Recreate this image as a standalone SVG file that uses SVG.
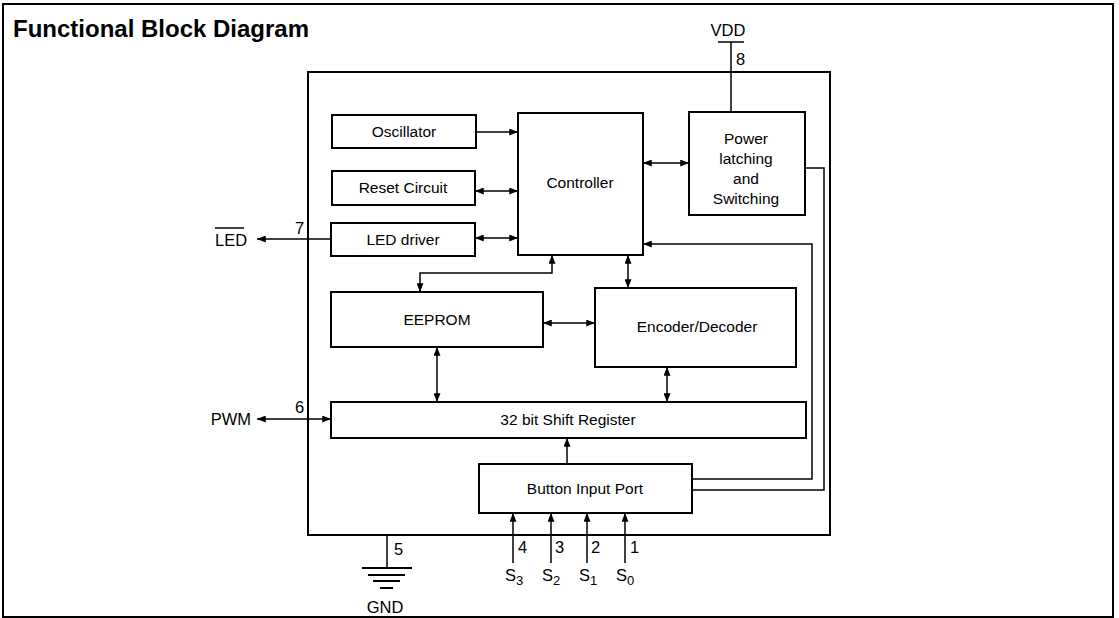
<svg xmlns="http://www.w3.org/2000/svg" width="1119" height="618" viewBox="0 0 1119 618">
<style>
.box{fill:#fff;stroke:#000;stroke-width:2}
.ln{fill:none;stroke:#000;stroke-width:1.5}
.t{font-family:"Liberation Sans",Arial,sans-serif;font-size:15.5px;fill:#000;text-anchor:middle}
.p{font-family:"Liberation Sans",Arial,sans-serif;font-size:16.5px;fill:#000}
.a{marker-end:url(#ah)}
.d{marker-start:url(#ah);marker-end:url(#ah)}
</style>
<defs>
<marker id="ah" viewBox="0 0 10 8" refX="10" refY="4" markerWidth="11" markerHeight="7" markerUnits="userSpaceOnUse" orient="auto-start-reverse">
<path d="M0,0 L10,4 L0,8 z" fill="#000"/>
</marker>
</defs>
<rect x="0" y="0" width="1119" height="618" fill="#fff"/>
<rect x="3" y="4" width="1110" height="613" fill="none" stroke="#000" stroke-width="2"/>
<text x="13" y="37" font-family="Liberation Sans,Arial,sans-serif" font-weight="bold" font-size="24" fill="#000">Functional Block Diagram</text>

<g id="chip"><rect x="308" y="72" width="522" height="463" fill="none" stroke="#000" stroke-width="2"/></g>

<g id="oscillator"><rect class="box" x="332" y="115" width="144" height="33"/><text class="t" x="404" y="137">Oscillator</text></g>
<g id="reset"><rect class="box" x="332" y="171" width="143" height="34"/><text class="t" x="403" y="193">Reset Circuit</text></g>
<g id="led-driver"><rect class="box" x="331" y="223" width="144" height="33"/><text class="t" x="403" y="245">LED driver</text></g>
<g id="controller"><rect class="box" x="518" y="113" width="125" height="142"/><text class="t" x="580" y="188">Controller</text></g>
<g id="power"><rect class="box" x="689" y="112" width="116" height="103"/>
<text class="t" x="746" y="144">Power</text><text class="t" x="746" y="164">latching</text><text class="t" x="746" y="184">and</text><text class="t" x="746" y="204">Switching</text></g>
<g id="eeprom"><rect class="box" x="331" y="292" width="212" height="55"/><text class="t" x="437" y="325">EEPROM</text></g>
<g id="encoder"><rect class="box" x="595" y="288" width="201" height="79"/><text class="t" x="697" y="332">Encoder/Decoder</text></g>
<g id="shift"><rect class="box" x="331" y="402" width="475" height="36"/><text class="t" x="568" y="425">32 bit Shift Register</text></g>
<g id="button"><rect class="box" x="479" y="464" width="213" height="49"/><text class="t" x="585" y="494">Button Input Port</text></g>

<g id="pins">
<text class="p" x="728" y="36" text-anchor="middle">VDD</text>
<line class="ln" x1="718" y1="42" x2="744" y2="42"/>
<text class="p" x="736" y="65">8</text>
<text class="p" x="215" y="246">LED</text>
<line class="ln" x1="215" y1="228" x2="244" y2="228"/>
<text class="p" x="295" y="234">7</text>
<text class="p" x="251" y="425" text-anchor="end">PWM</text>
<text class="p" x="295" y="413">6</text>
<text class="p" x="394" y="555">5</text>
<text class="p" x="385" y="613" text-anchor="middle">GND</text>
<text class="p" x="518" y="553">4</text>
<text class="p" x="555" y="553">3</text>
<text class="p" x="591" y="553">2</text>
<text class="p" x="630" y="553">1</text>
<text class="p" x="505" y="581">S<tspan font-size="13" dy="4">3</tspan></text>
<text class="p" x="542" y="581">S<tspan font-size="13" dy="4">2</tspan></text>
<text class="p" x="579" y="581">S<tspan font-size="13" dy="4">1</tspan></text>
<text class="p" x="616" y="581">S<tspan font-size="13" dy="4">0</tspan></text>
<g id="gnd">
<line class="ln" x1="387" y1="535" x2="387" y2="568"/>
<line x1="362" y1="568" x2="412" y2="568" stroke="#000" stroke-width="2"/>
<line x1="368" y1="575" x2="405" y2="575" stroke="#000" stroke-width="2"/>
<line x1="373" y1="581" x2="400" y2="581" stroke="#000" stroke-width="2"/>
<line x1="380" y1="588" x2="393" y2="588" stroke="#000" stroke-width="2"/>
</g>
</g>

<g id="connectors">
<line class="ln" x1="731" y1="42" x2="731" y2="112"/>
<line class="ln a" x1="476" y1="132" x2="518" y2="132"/>
<line class="ln d" x1="475" y1="191" x2="518" y2="191"/>
<line class="ln d" x1="475" y1="238" x2="518" y2="238"/>
<line class="ln a" x1="331" y1="239" x2="257" y2="239"/>
<line class="ln d" x1="643" y1="163" x2="689" y2="163"/>
<polyline class="ln d" points="420,292 420,273 552,273 552,255"/>
<line class="ln d" x1="628" y1="255" x2="628" y2="288"/>
<line class="ln d" x1="543" y1="323" x2="595" y2="323"/>
<line class="ln d" x1="437" y1="347" x2="437" y2="402"/>
<line class="ln d" x1="667" y1="367" x2="667" y2="402"/>
<line class="ln d" x1="257" y1="419" x2="331" y2="419"/>
<line class="ln a" x1="567" y1="464" x2="567" y2="438"/>
<polyline class="ln a" points="692,479 812,479 812,244 643,244"/>
<polyline class="ln" points="805,168 824,168 824,490 692,490"/>
<line class="ln a" x1="513" y1="563" x2="513" y2="513"/>
<line class="ln a" x1="551" y1="563" x2="551" y2="513"/>
<line class="ln a" x1="587" y1="563" x2="587" y2="513"/>
<line class="ln a" x1="625" y1="563" x2="625" y2="513"/>
</g>
</svg>
